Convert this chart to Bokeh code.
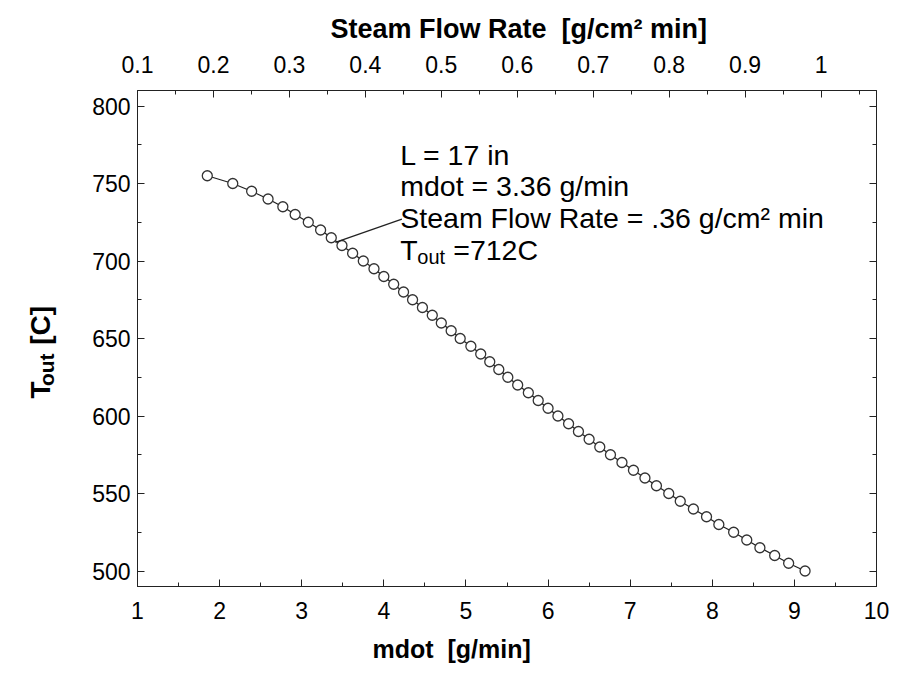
import math
from bokeh.plotting import figure
from bokeh.layouts import row
from bokeh.models import Range1d, LinearAxis, FixedTicker, CustomJSTickFormatter, Label, Title
from bokeh.core.properties import value
from bokeh.embed import file_html
from bokeh.resources import INLINE

# ---------------- data ----------------
t_out = [755, 750, 745, 740, 735, 730, 725, 720, 715, 710,
         705, 700, 695, 690, 685, 680, 675, 670, 665, 660,
         655, 650, 645, 640, 635, 630, 625, 620, 615, 610,
         605, 600, 595, 590, 585, 580, 575, 570, 565, 560,
         555, 550, 545, 540, 535, 530, 525, 520, 515, 510,
         505, 500]
mdot = [1.85, 2.16, 2.39, 2.59, 2.77, 2.92, 3.08, 3.23, 3.36, 3.49,
        3.62, 3.75, 3.88, 4.00, 4.12, 4.24, 4.35, 4.47, 4.59, 4.70,
        4.82, 4.93, 5.06, 5.18, 5.29, 5.40, 5.51, 5.63, 5.76, 5.88,
        6.00, 6.12, 6.25, 6.37, 6.50, 6.63, 6.76, 6.90, 7.04, 7.18,
        7.32, 7.47, 7.61, 7.77, 7.93, 8.08, 8.26, 8.42, 8.58, 8.76,
        8.93, 9.13]

x_ticks = [1, 2, 3, 4, 5, 6, 7, 8, 9, 10]
y_ticks = [500, 550, 600, 650, 700, 750, 800]
steam_ticks = [0.1, 0.2, 0.3, 0.4, 0.5, 0.6, 0.7, 0.8, 0.9, 1.0]

x_range = (1, 10)
y_range = (490, 810)
steam_range = (0.1, 1.073)

# leader line of the annotation
leader_x = [3.41, 4.22]
leader_y = [712.0, 727.0]

annot_lines = ["L = 17 in", "mdot = 3.36 g/min", "Steam Flow Rate = .36 g/cm\u00b2 min"]
annot_last = "=712C"

FONT = "Liberation Sans"
INK = "#222222"
NB = "\u00a0"

W_TITLE = 70          # width of the strip holding the rotated y title
H = 673

# ---------------- strip with the rotated y-axis title ----------------
s = figure(width=W_TITLE, height=H, x_range=Range1d(0, W_TITLE), y_range=Range1d(H, 0),
           output_backend="svg", toolbar_location=None,
           x_axis_location=None, y_axis_location=None,
           min_border_left=0, min_border_right=0, min_border_top=0, min_border_bottom=0)
s.grid.visible = False
s.outline_line_color = None
s.background_fill_color = "white"
s.border_fill_color = "white"
rot = math.pi / 2
s.text(x=[39.5], y=[418], text=["T"], angle=rot, text_font=value(FONT),
       text_font_style="bold", text_font_size="28px", text_color="black",
       text_baseline="alphabetic", text_align="left")
s.text(x=[45.5], y=[401], text=["out"], angle=rot, text_font=value(FONT),
       text_font_style="bold", text_font_size="21px", text_color="black",
       text_baseline="alphabetic", text_align="left")
s.text(x=[39.5], y=[345], text=["[C]"], angle=rot, text_font=value(FONT),
       text_font_style="bold", text_font_size="28px", text_color="black",
       text_baseline="alphabetic", text_align="left")

# ---------------- main plot ----------------
p = figure(frame_width=739, frame_height=496,
           x_range=Range1d(*x_range), y_range=Range1d(*y_range),
           output_backend="svg", toolbar_location=None,
           min_border_left=137 - W_TITLE, min_border_right=21,
           min_border_top=90, min_border_bottom=87)
p.extra_x_ranges = {"steam": Range1d(*steam_range)}
p.grid.visible = False
p.outline_line_color = INK
p.outline_line_width = 1
p.background_fill_color = "white"
p.border_fill_color = "white"


def style(ax, size="23px"):
    ax.major_tick_in = 7
    ax.major_tick_out = 0
    ax.minor_tick_in = 4
    ax.minor_tick_out = 0
    ax.axis_line_color = INK
    ax.major_tick_line_color = INK
    ax.minor_tick_line_color = INK
    ax.major_label_text_font = FONT
    ax.major_label_text_font_size = size
    ax.major_label_text_color = "black"


# bottom axis
xa = p.xaxis[0]
xa.ticker = FixedTicker(ticks=x_ticks, minor_ticks=[t + 0.5 for t in x_ticks[:-1]])
style(xa)
xa.major_label_standoff = 15

# left axis
ya = p.yaxis[0]
ya.ticker = FixedTicker(ticks=y_ticks, minor_ticks=[t + 25 for t in y_ticks[:-1]])
style(ya)
ya.major_label_standoff = 7

# top axis (steam flow rate)
top = LinearAxis(x_range_name="steam",
                 ticker=FixedTicker(ticks=steam_ticks,
                                    minor_ticks=[round(t + 0.05, 2) for t in steam_ticks]),
                 formatter=CustomJSTickFormatter(code="return String(Number(tick.toFixed(2)))"))
style(top)
top.major_label_standoff = 18
p.add_layout(top, "above")

# right axis (ticks only)
right = LinearAxis(ticker=FixedTicker(ticks=y_ticks, minor_ticks=[t + 25 for t in y_ticks[:-1]]),
                   formatter=CustomJSTickFormatter(code="return ''"))
style(right)
right.major_label_standoff = 0
p.add_layout(right, "right")

# axis titles (top / bottom)
p.add_layout(Title(text="Steam Flow Rate" + NB + NB + "[g/cm\u00b2 min]", align="left",
                   offset=193, text_font=FONT, text_font_style="bold",
                   text_font_size="27px", text_color="black", standoff=17), "above")
p.add_layout(Title(text="mdot" + NB + NB + "[g/min]", align="left", offset=235,
                   text_font=FONT, text_font_style="bold", text_font_size="25px",
                   text_color="black", standoff=22), "below")

# curve
p.line(mdot, t_out, line_color=INK, line_width=1.3)
p.scatter(mdot, t_out, marker="circle", size=10, fill_color="white",
          line_color="#333333", line_width=1.3)

# annotation
p.line(leader_x, leader_y, line_color=INK, line_width=1.3)
ann_x = 4.20
ann_y = [768.5, 748.1, 727.6]
for txt, yy in zip(annot_lines, ann_y):
    p.add_layout(Label(x=ann_x, y=yy, text=txt, text_font=FONT, text_font_size="28.5px",
                       text_color="black", text_baseline="alphabetic", text_align="left"))
last_y = 707.2
p.add_layout(Label(x=ann_x, y=last_y, text="T", text_font=FONT, text_font_size="28.5px",
                   text_color="black", text_baseline="alphabetic"))
p.add_layout(Label(x=ann_x, y=last_y, x_offset=17, y_offset=-7, text="out", text_font=FONT,
                   text_font_size="20px", text_color="black", text_baseline="alphabetic"))
p.add_layout(Label(x=ann_x, y=last_y, x_offset=53, text=annot_last, text_font=FONT,
                   text_font_size="28.5px", text_color="black", text_baseline="alphabetic"))

layout = row(s, p, spacing=0)
open("out.html", "w").write(file_html(layout, INLINE))
